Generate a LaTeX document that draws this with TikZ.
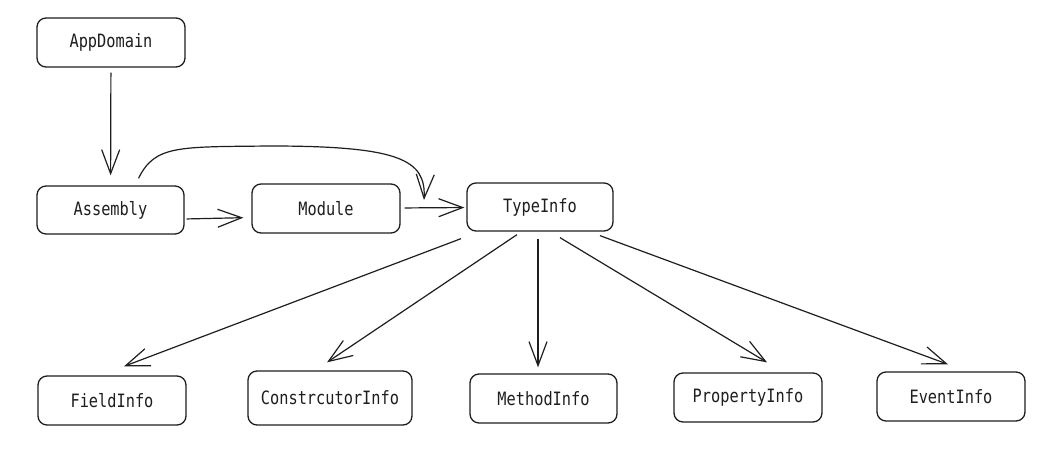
\documentclass[tikz,border=0pt]{standalone}
\usepackage{fontspec}
\usepackage{graphicx}
\setmonofont{DejaVu Sans Mono}
\usetikzlibrary{arrows.meta}
\definecolor{ink}{HTML}{1E1E1E}
\newcommand{\boxlbl}[1]{\scalebox{1}[1.2]{#1}}
\tikzset{
  box/.style={draw=ink, line width=1.3pt, rounded corners=9pt, rectangle,
    minimum width=148pt, minimum height=49pt, inner sep=0pt,
    text=ink, font=\ttfamily\fontsize{15.3}{18}\selectfont},
  arr/.style={draw=ink, line width=1.2pt,
    -{Straight Barb[length=24pt,width=18pt,line width=1.2pt]}}
}
\begin{document}
\begin{tikzpicture}[x=1pt,y=-1pt]
\useasboundingbox[fill=white] (0,0) rectangle (1060,454);

\node[box] (app)  at (111,42.5) {\boxlbl{AppDomain}};
\node[box, minimum width=147pt, minimum height=48pt] (asm) at (110.5,210) {\boxlbl{Assembly}};
\node[box] (mod)  at (326,208.5) {\boxlbl{Module}};
\node[box, minimum width=146pt, minimum height=48pt] (type) at (540,207) {\boxlbl{TypeInfo}};

\node[box] (field) at (112,400.5) {\boxlbl{FieldInfo}};
\node[box, minimum width=164pt, minimum height=54pt] (ctor) at (330,398) {\boxlbl{ConstrcutorInfo}};
\node[box, minimum width=147pt] (meth) at (543.5,398.5) {\boxlbl{MethodInfo}};
\node[box] (prop) at (748,397.5) {\boxlbl{PropertyInfo}};
\node[box] (evt)  at (951,396.5) {\boxlbl{EventInfo}};

\coordinate (cEnd) at (424,200);

\draw[arr, shorten <=5pt, shorten >=10pt] (app) -- (asm);
\draw[arr, shorten <=2pt, shorten >=8pt] ([yshift=-9pt]asm.east) -- ([yshift=-9pt]mod.west);
\draw[arr, shorten <=4pt, shorten >=2pt] (mod) -- (type);
\draw[arr] ([xshift=28pt,yshift=7pt]asm.north) .. controls (155,145) and (178,147) .. (270,146)
  .. controls (400,146) and (426,160) .. (cEnd);

\draw[arr] ([xshift=-79pt,yshift=-7pt]type.south) -- ([xshift=12pt,yshift=9pt]field.north);
\draw[arr] ([xshift=-23pt,yshift=-3pt]type.south) -- ([xshift=-3pt,yshift=8pt]ctor.north);
\draw[arr] ([xshift=-2pt,yshift=-7pt]type.south) -- ([xshift=-5.5pt,yshift=6pt]meth.north);
\draw[arr] ([xshift=20pt,yshift=-6pt]type.south) -- ([xshift=19pt,yshift=10pt]prop.north);
\draw[arr] ([xshift=60pt,yshift=-4pt]type.south) -- ([xshift=-3pt,yshift=7pt]evt.north);
\end{tikzpicture}
\end{document}
